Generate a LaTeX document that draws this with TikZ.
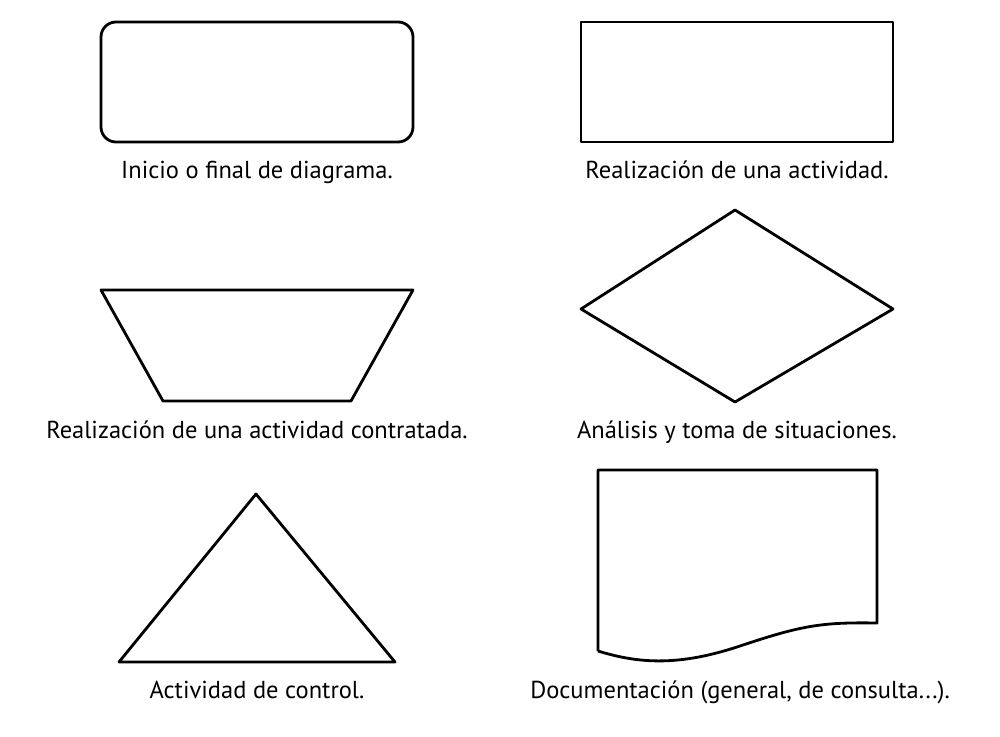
\documentclass[tikz,border=0pt]{standalone}
\usepackage{fontspec}
\setmainfont{PT Sans}
\usepackage{tikz}

\begin{document}
\begin{tikzpicture}[x=1pt,y=-1pt,
    figura/.style={draw, line width=2.8pt, line join=round},
    leyenda/.style={font=\fontsize{24.5}{28}\selectfont, anchor=base}]
    \useasboundingbox (0,0) rectangle (1000,736);
    % inicio o final
    \draw [figura, rounded corners=15pt] (101,22) rectangle (413,142);
    \node [leyenda] (inicio) at (257,178) {Inicio o final de diagrama.};
    % actividad
    \draw [figura] (581,22) rectangle (893,142);
    \node [leyenda] (actividad) at (737,178) {Realización de una actividad.};
    % contratada
    \draw [figura] (101,290) -- (413,290) -- (351,401) -- (163,401) -- cycle;
    \node [leyenda] (contratada) at (257,438) {Realización de una actividad contratada.};
    % decision
    \draw [figura] (581,309) -- (735,210) -- (893,309) -- (735,402) -- cycle;
    \node [leyenda] (analisis) at (737,438) {Análisis y toma de situaciones.};
    % control
    \draw [figura] (256,494) -- (395,662) -- (119,662) -- cycle;
    \node [leyenda] (control) at (257,698) {Actividad de control.};
    % documento
    \draw [figura] (598,651) -- (598,470) -- (877,470) -- (877,623)
                   .. controls (820,622) and (800,626) .. (740,646)
                   .. controls (680,666) and (640,664) .. (598,651);
    \node [leyenda] (documento) at (740,698) {Documentación (general, de consulta...).};
\end{tikzpicture}
\end{document}
